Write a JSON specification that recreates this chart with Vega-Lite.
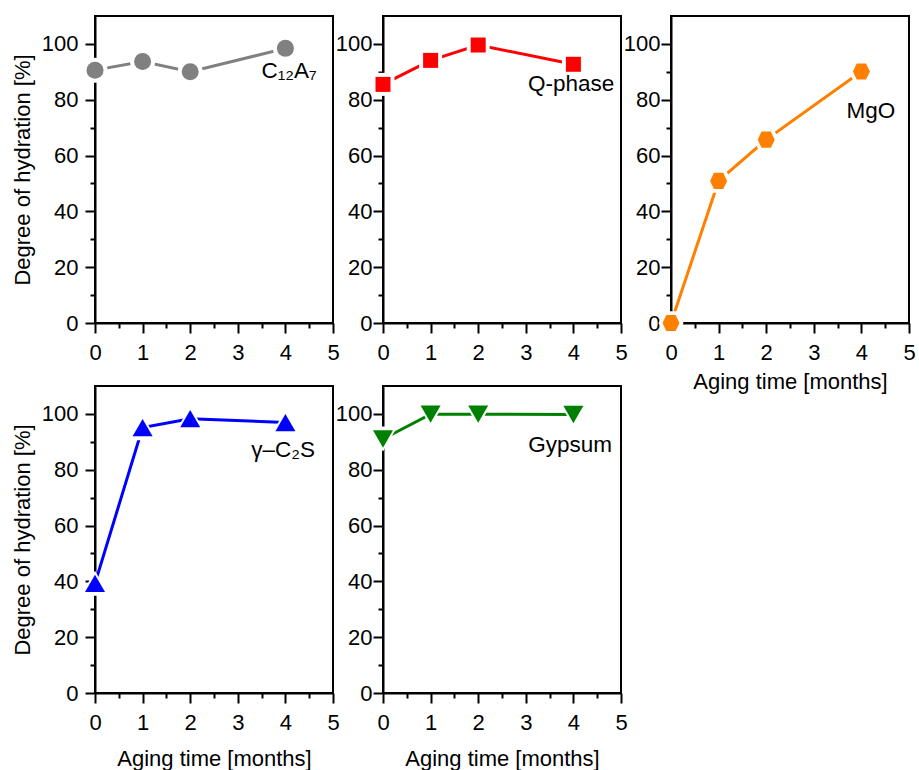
{
  "$schema": "https://vega.github.io/schema/vega-lite/v6.json",
  "background": "white",
  "padding": {"top": 15, "left": 10, "right": 5, "bottom": 5},
  "datasets": {
    "points": [
      {"phase": "C12A7", "t": 0, "doh": 90.6},
      {"phase": "C12A7", "t": 1, "doh": 93.7},
      {"phase": "C12A7", "t": 2, "doh": 90.0},
      {"phase": "C12A7", "t": 4, "doh": 98.4},
      {"phase": "Q-phase", "t": 0, "doh": 85.5},
      {"phase": "Q-phase", "t": 1, "doh": 94.1},
      {"phase": "Q-phase", "t": 2, "doh": 99.6},
      {"phase": "Q-phase", "t": 4, "doh": 92.7},
      {"phase": "MgO", "t": 0, "doh": 0},
      {"phase": "MgO", "t": 1, "doh": 50.9},
      {"phase": "MgO", "t": 2, "doh": 65.7},
      {"phase": "MgO", "t": 4, "doh": 90.1},
      {"phase": "C2S", "t": 0, "doh": 39.3},
      {"phase": "C2S", "t": 1, "doh": 95.1},
      {"phase": "C2S", "t": 2, "doh": 98.3},
      {"phase": "C2S", "t": 4, "doh": 96.9},
      {"phase": "Gypsum", "t": 0, "doh": 91.0},
      {"phase": "Gypsum", "t": 1, "doh": 99.9},
      {"phase": "Gypsum", "t": 2, "doh": 99.9},
      {"phase": "Gypsum", "t": 4, "doh": 99.8}
    ],
    "labels": [
      {"phase": "C12A7", "label": "C₁₂A₇", "t": 4.66, "doh": 87.8},
      {"phase": "Q-phase", "label": "Q-phase", "t": 4.86, "doh": 83.2},
      {"phase": "MgO", "label": "MgO", "t": 4.71, "doh": 73.5},
      {"phase": "C2S", "label": "γ–C₂S", "t": 4.62, "doh": 84.6},
      {"phase": "Gypsum", "label": "Gypsum", "t": 4.81, "doh": 86.4}
    ]
  },
  "columns": 3,
  "spacing": {"row": 63, "column": 50},
  "bounds": "flush",
  "concat": [
    {
      "width": 238, "height": 307,
      "resolve": {"axis": {"x": "independent", "y": "independent"}},
      "layer": [
        {"data": {"name": "points"}, "transform": [{"filter": "datum.phase === 'C12A7'"}],
         "mark": {"type": "line", "color": "#808080", "strokeWidth": 3},
         "encoding": {
           "x": {"field": "t", "type": "quantitative", "scale": {"domain": [0, 5], "nice": false}, "axis": {"orient": "bottom", "values": [0.5, 1.5, 2.5, 3.5, 4.5], "labels": false, "domain": false, "tickSize": 5, "title": null}},
           "y": {"field": "doh", "type": "quantitative", "scale": {"domain": [0, 110], "nice": false}, "axis": {"orient": "left", "values": [10, 30, 50, 70, 90], "labels": false, "domain": false, "tickSize": 5, "title": null}}
         }},
        {"data": {"name": "points"}, "transform": [{"filter": "datum.phase === 'C12A7'"}],
         "mark": {"type": "point", "shape": "circle", "filled": true, "size": 625, "color": "white", "opacity": 1},
         "encoding": {
           "x": {"field": "t", "type": "quantitative", "axis": {"orient": "bottom", "values": [0, 1, 2, 3, 4, 5], "tickSize": 10, "labelPadding": 9, "labelFlush": false, "labelOverlap": false, "title": null}},
           "y": {"field": "doh", "type": "quantitative", "axis": {"orient": "left", "values": [0, 20, 40, 60, 80, 100], "tickSize": 10, "labelPadding": 7, "labelOverlap": false, "title": "Degree of hydration [%]", "titlePadding": 7}}
         }},
        {"data": {"name": "points"}, "transform": [{"filter": "datum.phase === 'C12A7'"}],
         "mark": {"type": "point", "shape": "circle", "filled": true, "size": 289, "color": "#808080", "opacity": 1},
         "encoding": {
           "x": {"field": "t", "type": "quantitative", "axis": null},
           "y": {"field": "doh", "type": "quantitative", "axis": null}
         }},
        {"data": {"name": "labels"}, "transform": [{"filter": "datum.phase === 'C12A7'"}],
         "mark": {"type": "text", "align": "right", "baseline": "alphabetic", "fontSize": 22.5, "font": "Liberation Sans", "color": "black"},
         "encoding": {
           "x": {"field": "t", "type": "quantitative", "axis": null},
           "y": {"field": "doh", "type": "quantitative", "axis": null},
           "text": {"field": "label"}
         }}
      ]
    },
    {
      "width": 238, "height": 307,
      "resolve": {"axis": {"x": "independent", "y": "independent"}},
      "layer": [
        {"data": {"name": "points"}, "transform": [{"filter": "datum.phase === 'Q-phase'"}],
         "mark": {"type": "line", "color": "#FF0000", "strokeWidth": 3},
         "encoding": {
           "x": {"field": "t", "type": "quantitative", "scale": {"domain": [0, 5], "nice": false}, "axis": {"orient": "bottom", "values": [0.5, 1.5, 2.5, 3.5, 4.5], "labels": false, "domain": false, "tickSize": 5, "title": null}},
           "y": {"field": "doh", "type": "quantitative", "scale": {"domain": [0, 110], "nice": false}, "axis": {"orient": "left", "values": [10, 30, 50, 70, 90], "labels": false, "domain": false, "tickSize": 5, "title": null}}
         }},
        {"data": {"name": "points"}, "transform": [{"filter": "datum.phase === 'Q-phase'"}],
         "mark": {"type": "point", "shape": "square", "filled": true, "size": 529, "color": "white", "opacity": 1},
         "encoding": {
           "x": {"field": "t", "type": "quantitative", "axis": {"orient": "bottom", "values": [0, 1, 2, 3, 4, 5], "tickSize": 10, "labelPadding": 9, "labelFlush": false, "labelOverlap": false, "title": null}},
           "y": {"field": "doh", "type": "quantitative", "axis": {"orient": "left", "values": [0, 20, 40, 60, 80, 100], "tickSize": 10, "labelPadding": 1, "labelOverlap": false, "title": null}}
         }},
        {"data": {"name": "points"}, "transform": [{"filter": "datum.phase === 'Q-phase'"}],
         "mark": {"type": "point", "shape": "square", "filled": true, "size": 225, "color": "#FF0000", "opacity": 1},
         "encoding": {
           "x": {"field": "t", "type": "quantitative", "axis": null},
           "y": {"field": "doh", "type": "quantitative", "axis": null}
         }},
        {"data": {"name": "labels"}, "transform": [{"filter": "datum.phase === 'Q-phase'"}],
         "mark": {"type": "text", "align": "right", "baseline": "alphabetic", "fontSize": 22.5, "font": "Liberation Sans", "color": "black"},
         "encoding": {
           "x": {"field": "t", "type": "quantitative", "axis": null},
           "y": {"field": "doh", "type": "quantitative", "axis": null},
           "text": {"field": "label"}
         }}
      ]
    },
    {
      "width": 238, "height": 307,
      "resolve": {"axis": {"x": "independent", "y": "independent"}},
      "layer": [
        {"data": {"name": "points"}, "transform": [{"filter": "datum.phase === 'MgO'"}],
         "mark": {"type": "line", "color": "#FF8000", "strokeWidth": 3},
         "encoding": {
           "x": {"field": "t", "type": "quantitative", "scale": {"domain": [0, 5], "nice": false}, "axis": {"orient": "bottom", "values": [0.5, 1.5, 2.5, 3.5, 4.5], "labels": false, "domain": false, "tickSize": 5, "title": null}},
           "y": {"field": "doh", "type": "quantitative", "scale": {"domain": [0, 110], "nice": false}, "axis": {"orient": "left", "values": [10, 30, 50, 70, 90], "labels": false, "domain": false, "tickSize": 5, "title": null}}
         }},
        {"data": {"name": "points"}, "transform": [{"filter": "datum.phase === 'MgO'"}],
         "mark": {"type": "point", "shape": "M-1,0L-0.55,-0.95L0.55,-0.95L1,0L0.55,0.95L-0.55,0.95Z", "filled": true, "size": 625, "color": "white", "opacity": 1},
         "encoding": {
           "x": {"field": "t", "type": "quantitative", "axis": {"orient": "bottom", "values": [0, 1, 2, 3, 4, 5], "tickSize": 10, "labelPadding": 9, "labelFlush": false, "labelOverlap": false, "title": "Aging time [months]", "titlePadding": 8}},
           "y": {"field": "doh", "type": "quantitative", "axis": {"orient": "left", "values": [0, 20, 40, 60, 80, 100], "tickSize": 10, "labelPadding": 1, "labelOverlap": false, "title": null}}
         }},
        {"data": {"name": "points"}, "transform": [{"filter": "datum.phase === 'MgO'"}],
         "mark": {"type": "point", "shape": "M-1,0L-0.55,-0.95L0.55,-0.95L1,0L0.55,0.95L-0.55,0.95Z", "filled": true, "size": 289, "color": "#FF8000", "opacity": 1},
         "encoding": {
           "x": {"field": "t", "type": "quantitative", "axis": null},
           "y": {"field": "doh", "type": "quantitative", "axis": null}
         }},
        {"data": {"name": "labels"}, "transform": [{"filter": "datum.phase === 'MgO'"}],
         "mark": {"type": "text", "align": "right", "baseline": "alphabetic", "fontSize": 22.5, "font": "Liberation Sans", "color": "black"},
         "encoding": {
           "x": {"field": "t", "type": "quantitative", "axis": null},
           "y": {"field": "doh", "type": "quantitative", "axis": null},
           "text": {"field": "label"}
         }}
      ]
    },
    {
      "width": 238, "height": 307,
      "resolve": {"axis": {"x": "independent", "y": "independent"}},
      "layer": [
        {"data": {"name": "points"}, "transform": [{"filter": "datum.phase === 'C2S'"}],
         "mark": {"type": "line", "color": "#0000FF", "strokeWidth": 3},
         "encoding": {
           "x": {"field": "t", "type": "quantitative", "scale": {"domain": [0, 5], "nice": false}, "axis": {"orient": "bottom", "values": [0.5, 1.5, 2.5, 3.5, 4.5], "labels": false, "domain": false, "tickSize": 5, "title": null}},
           "y": {"field": "doh", "type": "quantitative", "scale": {"domain": [0, 110], "nice": false}, "axis": {"orient": "left", "values": [10, 30, 50, 70, 90], "labels": false, "domain": false, "tickSize": 5, "title": null}}
         }},
        {"data": {"name": "points"}, "transform": [{"filter": "datum.phase === 'C2S'"}],
         "mark": {"type": "point", "shape": "triangle-up", "filled": true, "size": 841, "color": "white", "opacity": 1},
         "encoding": {
           "x": {"field": "t", "type": "quantitative", "axis": {"orient": "bottom", "values": [0, 1, 2, 3, 4, 5], "tickSize": 10, "labelPadding": 9, "labelFlush": false, "labelOverlap": false, "title": "Aging time [months]", "titlePadding": 15}},
           "y": {"field": "doh", "type": "quantitative", "axis": {"orient": "left", "values": [0, 20, 40, 60, 80, 100], "tickSize": 10, "labelPadding": 7, "labelOverlap": false, "title": "Degree of hydration [%]", "titlePadding": 7}}
         }},
        {"data": {"name": "points"}, "transform": [{"filter": "datum.phase === 'C2S'"}],
         "mark": {"type": "point", "shape": "triangle-up", "filled": true, "size": 400, "color": "#0000FF", "opacity": 1},
         "encoding": {
           "x": {"field": "t", "type": "quantitative", "axis": null},
           "y": {"field": "doh", "type": "quantitative", "axis": null}
         }},
        {"data": {"name": "labels"}, "transform": [{"filter": "datum.phase === 'C2S'"}],
         "mark": {"type": "text", "align": "right", "baseline": "alphabetic", "fontSize": 22.5, "font": "Liberation Sans", "color": "black"},
         "encoding": {
           "x": {"field": "t", "type": "quantitative", "axis": null},
           "y": {"field": "doh", "type": "quantitative", "axis": null},
           "text": {"field": "label"}
         }}
      ]
    },
    {
      "width": 238, "height": 307,
      "resolve": {"axis": {"x": "independent", "y": "independent"}},
      "layer": [
        {"data": {"name": "points"}, "transform": [{"filter": "datum.phase === 'Gypsum'"}],
         "mark": {"type": "line", "color": "#008000", "strokeWidth": 3},
         "encoding": {
           "x": {"field": "t", "type": "quantitative", "scale": {"domain": [0, 5], "nice": false}, "axis": {"orient": "bottom", "values": [0.5, 1.5, 2.5, 3.5, 4.5], "labels": false, "domain": false, "tickSize": 5, "title": null}},
           "y": {"field": "doh", "type": "quantitative", "scale": {"domain": [0, 110], "nice": false}, "axis": {"orient": "left", "values": [10, 30, 50, 70, 90], "labels": false, "domain": false, "tickSize": 5, "title": null}}
         }},
        {"data": {"name": "points"}, "transform": [{"filter": "datum.phase === 'Gypsum'"}],
         "mark": {"type": "point", "shape": "triangle-down", "filled": true, "size": 841, "color": "white", "opacity": 1},
         "encoding": {
           "x": {"field": "t", "type": "quantitative", "axis": {"orient": "bottom", "values": [0, 1, 2, 3, 4, 5], "tickSize": 10, "labelPadding": 9, "labelFlush": false, "labelOverlap": false, "title": "Aging time [months]", "titlePadding": 15}},
           "y": {"field": "doh", "type": "quantitative", "axis": {"orient": "left", "values": [0, 20, 40, 60, 80, 100], "tickSize": 10, "labelPadding": 1, "labelOverlap": false, "title": null}}
         }},
        {"data": {"name": "points"}, "transform": [{"filter": "datum.phase === 'Gypsum'"}],
         "mark": {"type": "point", "shape": "triangle-down", "filled": true, "size": 400, "color": "#008000", "opacity": 1},
         "encoding": {
           "x": {"field": "t", "type": "quantitative", "axis": null},
           "y": {"field": "doh", "type": "quantitative", "axis": null}
         }},
        {"data": {"name": "labels"}, "transform": [{"filter": "datum.phase === 'Gypsum'"}],
         "mark": {"type": "text", "align": "right", "baseline": "alphabetic", "fontSize": 22.5, "font": "Liberation Sans", "color": "black"},
         "encoding": {
           "x": {"field": "t", "type": "quantitative", "axis": null},
           "y": {"field": "doh", "type": "quantitative", "axis": null},
           "text": {"field": "label"}
         }}
      ]
    }
  ],
  "config": {
    "view": {"stroke": "black", "strokeWidth": 2},
    "axis": {
      "grid": false,
      "domainColor": "black", "domainWidth": 2,
      "tickColor": "black", "tickWidth": 2,
      "labelFont": "Liberation Sans", "labelFontSize": 22, "labelColor": "black",
      "titleFont": "Liberation Sans", "titleFontSize": 22, "titleFontWeight": "normal", "titleColor": "black"
    }
  }
}
